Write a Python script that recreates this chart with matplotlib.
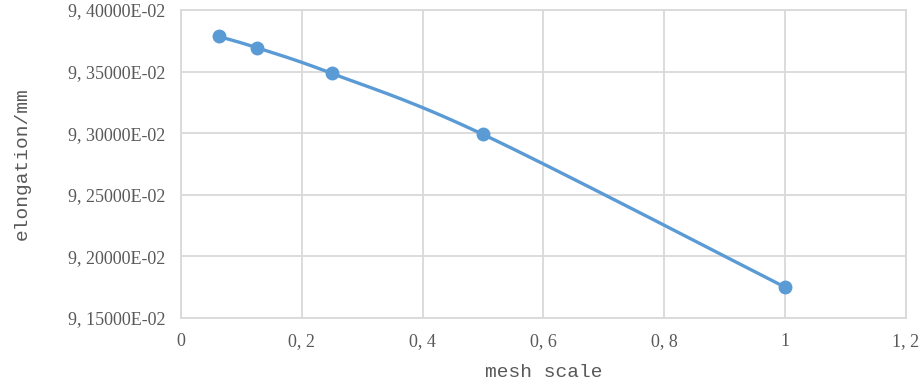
import numpy as np
import matplotlib
matplotlib.use("Agg")
import matplotlib.pyplot as plt
from matplotlib.ticker import FuncFormatter

# data
mesh_scale = [0.0625, 0.125, 0.25, 0.5, 1.0]
elongation = [0.093785, 0.093695, 0.093485, 0.092990, 0.091750]

x_ticks = [0, 0.2, 0.4, 0.6, 0.8, 1.0, 1.2]
y_ticks = [0.0915, 0.0920, 0.0925, 0.0930, 0.0935, 0.0940]

line_color = "#5b9bd5"
grid_color = "#d9d9d9"
text_color = "#595959"

xlim = (0, 1.2)
ylim = (0.0915, 0.0940)


def smooth_curve(xs, ys, n=40):
    # excel-style smoothed line: bezier segments with catmull-rom control points,
    # computed in normalized axis space
    px = (np.asarray(xs) - xlim[0]) / (xlim[1] - xlim[0])
    py = (np.asarray(ys) - ylim[0]) / (ylim[1] - ylim[0]) * (308 / 725)
    pts = np.column_stack([px, py])
    out = []
    for i in range(len(pts) - 1):
        p0 = pts[max(i - 1, 0)]
        p1 = pts[i]
        p2 = pts[i + 1]
        p3 = pts[min(i + 2, len(pts) - 1)]
        c1 = p1 + (p2 - p0) / 6
        c2 = p2 - (p3 - p1) / 6
        t = np.linspace(0, 1, n)[:, None]
        seg = ((1 - t) ** 3) * p1 + 3 * ((1 - t) ** 2) * t * c1 + 3 * (1 - t) * t ** 2 * c2 + t ** 3 * p2
        out.append(seg if i == 0 else seg[1:])
    curve = np.vstack(out)
    cx = curve[:, 0] * (xlim[1] - xlim[0]) + xlim[0]
    cy = curve[:, 1] / (308 / 725) * (ylim[1] - ylim[0]) + ylim[0]
    return cx, cy


fig = plt.figure(figsize=(9.22, 3.88), dpi=100)
ax = fig.add_axes([0.1963, 0.1804, 0.7863, 0.7938])

cx, cy = smooth_curve(mesh_scale, elongation)
ax.plot(cx, cy, color=line_color, linewidth=2.4, zorder=3, solid_capstyle="round")
ax.plot(mesh_scale, elongation, linestyle="none", marker="o", markersize=9,
        color=line_color, zorder=4)

ax.set_xlim(*xlim)
ax.set_ylim(*ylim)
ax.set_xticks(x_ticks)
ax.set_yticks(y_ticks)


def fmt_x(v, pos):
    s = f"{v:.1f}".rstrip("0").rstrip(".")
    return s.replace(".", ", ")


def fmt_y(v, pos):
    m = v * 100
    return f"{m:.5f}E-02".replace(".", ", ")


ax.xaxis.set_major_formatter(FuncFormatter(fmt_x))
ax.yaxis.set_major_formatter(FuncFormatter(fmt_y))

ax.grid(True, color=grid_color, linewidth=1.3)
ax.set_axisbelow(True)
for side in ["top", "right", "left", "bottom"]:
    ax.spines[side].set_color(grid_color)
    ax.spines[side].set_linewidth(1.3)
ax.tick_params(length=0, labelcolor=text_color)
ax.tick_params(axis="y", pad=11)
ax.tick_params(axis="x", pad=11)
for lab in ax.get_xticklabels() + ax.get_yticklabels():
    lab.set_fontfamily("Liberation Serif")
    lab.set_fontsize(13)

ax.set_xlabel("mesh scale", family="Liberation Mono", fontsize=14, color=text_color)
ax.set_ylabel("elongation/mm", family="Liberation Mono", fontsize=14, color=text_color)
ax.xaxis.set_label_coords(0.5, -0.15)
ax.yaxis.set_label_coords(-0.207, 0.5)

fig.savefig("out.png", dpi=100)
